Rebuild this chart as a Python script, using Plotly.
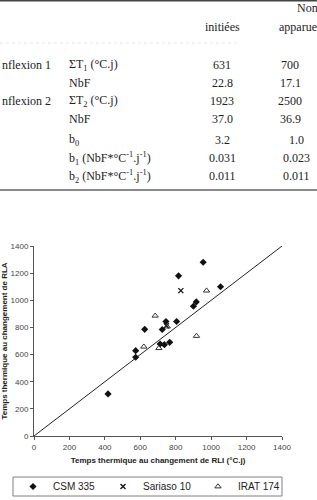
import plotly.graph_objects as go

# ---------------- data ----------------
csm_x = [418, 574, 574, 625, 712, 736, 766, 724, 745, 805, 900, 916, 816, 955, 1053]
csm_y = [310, 580, 629, 786, 678, 673, 690, 785, 844, 844, 956, 988, 1180, 1280, 1100]
sar_x = [829, 747]
sar_y = [1071, 812]
irat_x = [620, 684, 705, 917, 974, 752]
irat_y = [658, 886, 647, 737, 1071, 806]
line_x = [0, 1400]
line_y = [0, 1400]
xticks = [0, 200, 400, 600, 800, 1000, 1200, 1400]
yticks = [0, 200, 400, 600, 800, 1000, 1200, 1400]

# table (cropped, above chart)
tbl_header = ["Nom", "initiées", "apparues"]
tbl_group = ["nflexion 1", "", "nflexion 2", "", "", "", ""]
tbl_param = ["ΣT<sub>1</sub> (°C.j)", "NbF", "ΣT<sub>2</sub> (°C.j)", "NbF", "b<sub>0</sub>",
             "b<sub>1</sub> (NbF*°C<sup>-1</sup>.j<sup>-1</sup>)",
             "b<sub>2</sub> (NbF*°C<sup>-1</sup>.j<sup>-1</sup>)"]
tbl_init = ["631", "22.8", "1923", "37.0", "3.2", "0.031", "0.011"]
tbl_app = ["700", "17.1", "2500", "36.9", "1.0", "0.023", "0.011"]

# ---------------- layout helpers ----------------
W, H = 317, 500
L, R, T, B = 34, 282, 246, 436


def px(xp):
    return (xp - L) / (R - L)


def py(yp):
    return (B - yp) / (B - T)


fig = go.Figure()
fig.add_trace(go.Scatter(x=line_x, y=line_y, mode="lines",
                         line=dict(color="#222222", width=1), showlegend=False,
                         hoverinfo="skip"))
fig.add_trace(go.Scatter(x=csm_x, y=csm_y, mode="markers", name="CSM 335",
                         legend="legend",
                         marker=dict(symbol="diamond", size=5.5, color="#111111")))
fig.add_trace(go.Scatter(x=sar_x, y=sar_y, mode="markers", name="Sariaso 10",
                         legend="legend2",
                         marker=dict(symbol="x-thin", size=5, color="#111111",
                                     line=dict(width=1.3, color="#111111"))))
fig.add_trace(go.Scatter(x=irat_x, y=irat_y, mode="markers", name="IRAT 174",
                         legend="legend3",
                         marker=dict(symbol="triangle-up-open", size=5.5, color="#333333",
                                     line=dict(width=1, color="#333333"))))

axis_common = dict(range=[0, 1400], showgrid=False, zeroline=False, showline=True,
                   linecolor="#555555", linewidth=1, ticks="outside", ticklen=3,
                   tickcolor="#555555", tickvals=xticks, automargin=False,
                   tickfont=dict(family="Liberation Sans", size=8, color="#444444"))


def leg(xpix):
    return dict(orientation="h", xref="container", yref="container",
                x=xpix / W, xanchor="left", y=1 - 486.5 / H, yanchor="middle",
                borderwidth=0, bgcolor="rgba(0,0,0,0)",
                font=dict(family="Liberation Sans", size=10, color="#222222"))


fig.update_layout(
    width=W, height=H,
    margin=dict(l=L, r=W - R, t=T, b=H - B, autoexpand=False),
    paper_bgcolor="white", plot_bgcolor="white",
    xaxis=dict(**axis_common,
               title=dict(text="<b>Temps thermique au changement de RLI (°C.j)</b>",
                          font=dict(family="Liberation Sans", size=8, color="#222222"),
                          standoff=6)),
    yaxis=dict(**{**axis_common, "tickvals": yticks},
               title=dict(text="<b>Temps thermique au changement de RLA</b>",
                          font=dict(family="Liberation Sans", size=8, color="#222222"),
                          standoff=4)),
    legend=leg(13), legend2=leg(103), legend3=leg(198),
)

# ---------------- table (as text) ----------------
serif = dict(family="Liberation Serif", size=12, color="#222222")
ann = []
ann.append(dict(x=px(295), y=py(8), text=tbl_header[0], xanchor="left"))
ann.append(dict(x=px(222), y=py(27), text=tbl_header[1], xanchor="center"))
ann.append(dict(x=px(277), y=py(27), text=tbl_header[2], xanchor="left"))
row_y = [65, 83, 101, 119, 140, 158, 176]
for i, yy in enumerate(row_y):
    if tbl_group[i]:
        ann.append(dict(x=px(0), y=py(yy), text=tbl_group[i], xanchor="left"))
    ann.append(dict(x=px(67), y=py(yy), text=tbl_param[i], xanchor="left"))
    ann.append(dict(x=px(222), y=py(yy), text=tbl_init[i], xanchor="center"))
    c4 = 290 if i < 4 else 296
    ann.append(dict(x=px(c4), y=py(yy), text=tbl_app[i], xanchor="center"))
for a in ann:
    a.update(xref="paper", yref="paper", yanchor="middle", showarrow=False,
             font=serif)
fig.update_layout(annotations=ann)

fig.add_shape(type="line", xref="paper", yref="paper", x0=px(0), x1=px(W),
              y0=py(0.7), y1=py(0.7), line=dict(color="#444444", width=1.5))
fig.add_shape(type="line", xref="paper", yref="paper", x0=px(0), x1=px(240),
              y0=py(43), y1=py(43), line=dict(color="#e4e4e4", width=1, dash="dot"))
fig.add_shape(type="line", xref="paper", yref="paper", x0=px(0), x1=px(W),
              y0=py(190), y1=py(190), line=dict(color="#8a8a8a", width=2))
# legend frame
fig.add_shape(type="rect", xref="paper", yref="paper", x0=px(13), x1=px(282),
              y0=py(477), y1=py(496), line=dict(color="#808080", width=1),
              fillcolor="rgba(0,0,0,0)")

fig.write_html("out.html")
